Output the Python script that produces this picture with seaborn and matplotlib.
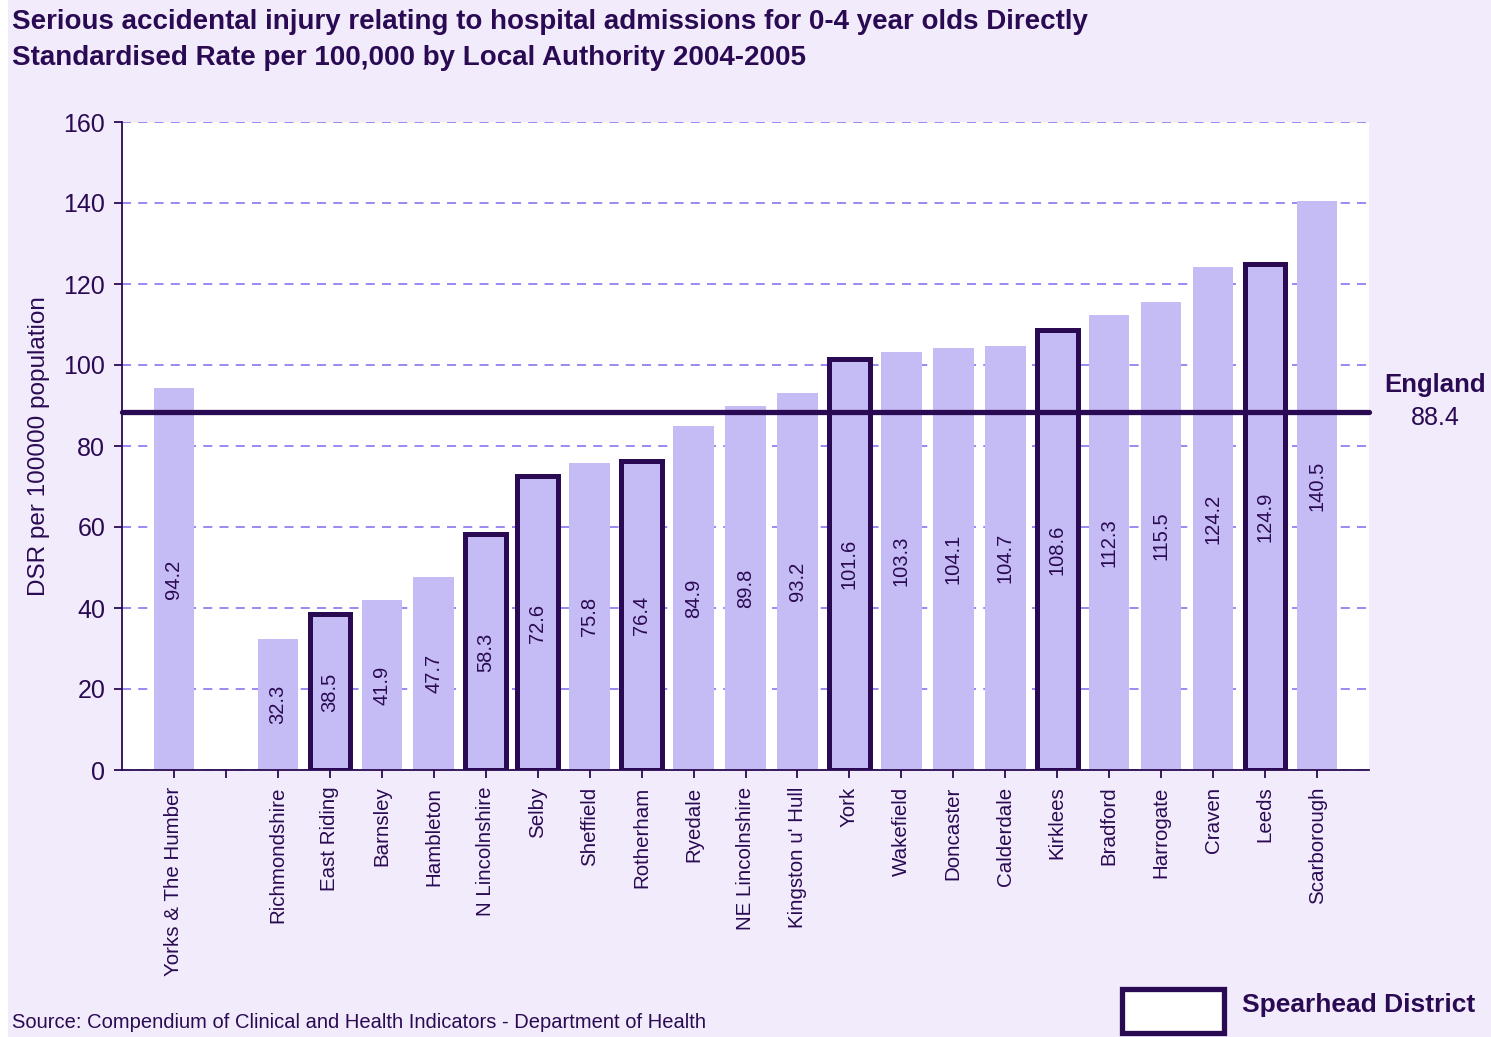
import numpy as np
import pandas as pd
import matplotlib
matplotlib.use("Agg")
from matplotlib import pyplot as plt
from matplotlib.patches import Rectangle
import seaborn as sns

areas = ["Yorks & The Humber", " ", "Richmondshire", "East Riding", "Barnsley", "Hambleton",
         "N Lincolnshire", "Selby", "Sheffield", "Rotherham", "Ryedale", "NE Lincolnshire",
         "Kingston u' Hull", "York", "Wakefield", "Doncaster", "Calderdale", "Kirklees",
         "Bradford", "Harrogate", "Craven", "Leeds", "Scarborough"]
dsr = [94.2, np.nan, 32.3, 38.5, 41.9, 47.7, 58.3, 72.6, 75.8, 76.4, 84.9, 89.8,
       93.2, 101.6, 103.3, 104.1, 104.7, 108.6, 112.3, 115.5, 124.2, 124.9, 140.5]
spearhead = ["East Riding", "N Lincolnshire", "Selby", "Rotherham", "York", "Kirklees", "Leeds"]
england = 88.4

df = pd.DataFrame({"area": areas, "dsr": dsr})

BAR = "#c5bbf5"
DARK = "#2a0a52"
BG = "#f2ebfc"
GRID = "#9080f0"

sns.set_theme(style="white")
plt.rcParams['font.family'] = ['Liberation Sans', 'DejaVu Sans']

fig = plt.figure(figsize=(14.91, 10.37), dpi=100, facecolor="white")
fig.patches.append(Rectangle((8 / 1491, 0), 1, 1, transform=fig.transFigure,
                             facecolor=BG, edgecolor="none", zorder=-10))
ax = fig.add_axes([122 / 1491, 1 - 770 / 1037, (1369 - 122) / 1491, (770 - 122) / 1037])
ax.set_facecolor("white")

sns.barplot(data=df, x="area", y="dsr", order=areas, color=BAR, saturation=1,
            width=0.78, ax=ax, zorder=2)

# outline the spearhead districts
for p in ax.patches:
    cx = p.get_x() + p.get_width() / 2
    i = int(round(cx))
    if i < 0 or i >= len(areas) or np.isnan(dsr[i]):
        continue
    p.set_linewidth(0)
    if areas[i] in spearhead:
        p.set_edgecolor(DARK)
        p.set_linewidth(3.6)
        p.set_zorder(3)

for i, v in enumerate(dsr):
    if np.isnan(v):
        continue
    ax.text(i, v / 2, f"{v:.1f}", rotation=90, ha="center", va="center",
            fontsize=14.5, color=DARK, zorder=4)

ax.axhline(england, color=DARK, lw=3.8, zorder=5, clip_on=False)
fig.text(1435 / 1491, 1 - 385 / 1037, "England", ha="center", va="center",
         fontsize=18.5, fontweight="bold", color=DARK)
fig.text(1435 / 1491, 1 - 418 / 1037, f"{england}", ha="center", va="center",
         fontsize=18, color=DARK)

ax.set_xlim(-1, len(areas))
ax.set_ylim(0, 160)
ax.set_yticks(range(0, 161, 20))
ax.yaxis.grid(True, linestyle=(0, (5, 4)), color=GRID, lw=1.3, zorder=0)
ax.set_axisbelow(True)
for s in ["top", "right"]:
    ax.spines[s].set_visible(False)
for s in ["left", "bottom"]:
    ax.spines[s].set_color(DARK)
    ax.spines[s].set_linewidth(1.3)
ax.tick_params(axis="both", which="both", direction="out", length=6, width=1.3,
               color=DARK, labelcolor=DARK, bottom=True, left=True)
ax.tick_params(axis="y", labelsize=18, pad=6)
ax.tick_params(axis="x", labelsize=14.8, pad=6)
ax.set_xticks(range(len(areas)))
ax.set_xticklabels(areas, rotation=90, ha="center", va="top")
ax.set_xlabel("")
ax.set_ylabel("DSR per 100000 population", fontsize=17.5, color=DARK, labelpad=10)

fig.text(12 / 1491, 1 - 9 / 1037,
         "Serious accidental injury relating to hospital admissions for 0-4 year olds Directly\n"
         "Standardised Rate per 100,000 by Local Authority 2004-2005",
         ha="left", va="top", fontsize=20, fontweight="bold", color=DARK, linespacing=1.5)

fig.text(12 / 1491, 1 - 1023 / 1037,
         "Source: Compendium of Clinical and Health Indicators - Department of Health",
         ha="left", va="center", fontsize=14.5, color=DARK)

fig.patches.append(Rectangle((1122 / 1491, 1 - 1033 / 1037), 102 / 1491, 44 / 1037,
                             transform=fig.transFigure, facecolor="white",
                             edgecolor=DARK, lw=3.8, zorder=5))
fig.text(1242 / 1491, 1 - 1005 / 1037, "Spearhead District", ha="left", va="center",
         fontsize=19, fontweight="bold", color=DARK)

fig.savefig("out.png", dpi=100, facecolor=fig.get_facecolor())
